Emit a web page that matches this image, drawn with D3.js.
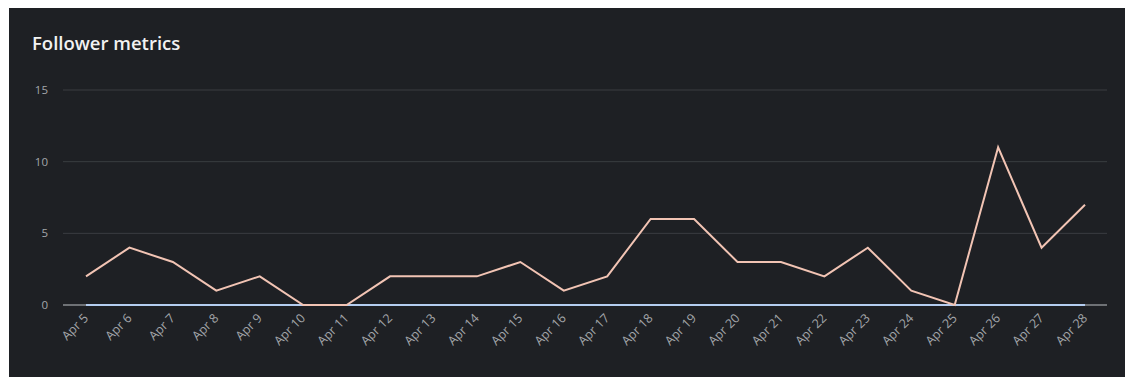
<!DOCTYPE html>
<html>
<head>
<meta charset="utf-8">
<script src="https://cdn.jsdelivr.net/npm/d3@7"></script>
<style>
  body { margin: 0; background: #fff; }
  svg { display: block; }
</style>
</head>
<body>
<script>
var days = ['Apr 5','Apr 6','Apr 7','Apr 8','Apr 9','Apr 10','Apr 11','Apr 12','Apr 13','Apr 14',
            'Apr 15','Apr 16','Apr 17','Apr 18','Apr 19','Apr 20','Apr 21','Apr 22','Apr 23','Apr 24',
            'Apr 25','Apr 26','Apr 27','Apr 28']
var gained = [2,4,3,1,2,0,0,2,2,2,3,1,2,6,6,3,3,2,4,1,0,11,4,7]
var lost = [0,0,0,0,0,0,0,0,0,0,0,0,0,0,0,0,0,0,0,0,0,0,0,0]
var yTicks = [0, 5, 10, 15]

var w = 1137
var h = 388

var svg = d3.select('body')
  .append('svg')
  .attr('width', w)
  .attr('height', h)

// dark card
svg.append('rect')
  .attr('x', 9).attr('y', 8)
  .attr('width', 1116).attr('height', 369)
  .attr('fill', '#1e2024')

svg.append('text')
  .attr('x', 32).attr('y', 50)
  .attr('font-family', 'Open Sans, sans-serif')
  .attr('font-weight', 600)
  .attr('font-size', '18.5px')
  .attr('fill', '#f2f2f2')
  .text('Follower metrics')

var x = d3.scalePoint()
  .domain(days)
  .range([86, 1085])

var y = d3.scaleLinear()
  .domain([0, 15])
  .range([305, 90])

// grid lines
svg.selectAll('.grid')
  .data(yTicks)
  .enter()
  .append('line')
  .attr('x1', 63).attr('x2', 1107)
  .attr('y1', function(d){ return y(d) })
  .attr('y2', function(d){ return y(d) })
  .attr('stroke', function(d){ return d === 0 ? '#8a8d91' : '#3a3d41' })
  .attr('stroke-width', function(d){ return d === 0 ? 1.5 : 1 })

svg.selectAll('.ylab')
  .data(yTicks)
  .enter()
  .append('text')
  .attr('x', 48)
  .attr('y', function(d){ return y(d) + 4 })
  .attr('text-anchor', 'end')
  .attr('font-family', 'Open Sans, sans-serif')
  .attr('font-size', '11.5px')
  .attr('fill', '#a3a6aa')
  .text(function(d){ return d })

// x labels, rotated
svg.selectAll('.xlab')
  .data(days)
  .enter()
  .append('text')
  .attr('transform', function(d){ return 'translate(' + (x(d) + 3) + ',' + 319 + ') rotate(-45)' })
  .attr('text-anchor', 'end')
  .attr('font-family', 'Open Sans, sans-serif')
  .attr('font-size', '12.5px')
  .attr('fill', '#a3a6aa')
  .text(function(d){ return d })

var line = d3.line()
  .x(function(d, i){ return x(days[i]) })
  .y(function(d){ return y(d) })

svg.append('path')
  .datum(lost)
  .attr('d', line)
  .attr('fill', 'none')
  .attr('stroke', '#b4cdf0')
  .attr('stroke-width', 2)

svg.append('path')
  .datum(gained)
  .attr('d', line)
  .attr('fill', 'none')
  .attr('stroke', '#f2c4b4')
  .attr('stroke-width', 2)
</script>
</body>
</html>
